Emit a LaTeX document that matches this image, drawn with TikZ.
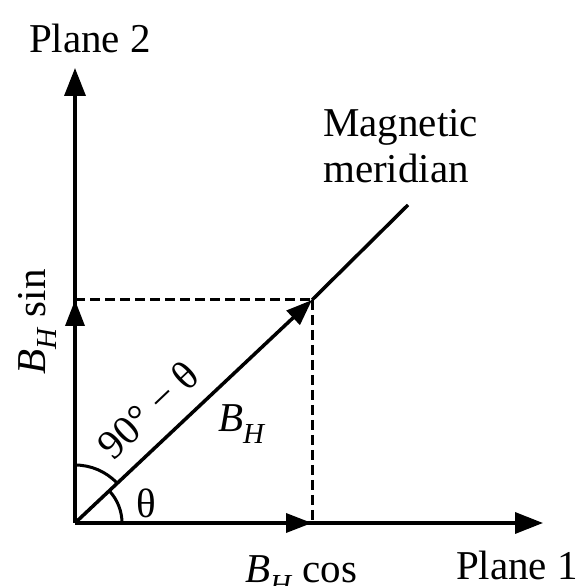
\documentclass[tikz,border=0pt]{standalone}
\usepackage{fontspec}
\setmainfont{Liberation Serif}
\usetikzlibrary{arrows.meta}
\newcommand{\BH}{\textit{B}\raisebox{-0.28em}{\fontsize{29}{32}\selectfont\textit{H}}}
\begin{document}
\begin{tikzpicture}[x=1pt,y=1pt,
  axis/.style={line width=3.5pt},
  tipstyle/.style={-{Triangle[length=28pt,width=21pt]}},
  tipsmall/.style={-{Triangle[length=26pt,width=19pt]}},
  dashline/.style={line width=3pt,dash pattern=on 10pt off 5pt},
  lbl/.style={inner sep=0pt,font=\fontsize{41}{49}\selectfont}]
\useasboundingbox (0,0) rectangle (579,586);
\coordinate (O) at (75,63);
\coordinate (Y) at (75,518);
\coordinate (X) at (543,63);
\coordinate (P) at (312,286);
\coordinate (Py) at (75,286);
\coordinate (Px) at (312,63);
\coordinate (M) at (408,381);
% axes
\draw[axis,tipstyle] (O) -- (Y);
\draw[axis,tipstyle] (O) -- (X);
\draw[axis,tipsmall] (O) -- (Py);
\draw[axis,tipsmall] (O) -- (Px);
% meridian
\draw[axis,tipsmall] (O) -- (P);
\draw[axis] (P) -- (M);
% dashed projections
\draw[dashline] (Py) -- (P);
\draw[dashline] (P) -- (Px);
% angle arcs
\draw[line width=3pt] ([shift={(0:47)}]O) arc[start angle=0,end angle=43.5,radius=47];
\draw[line width=3pt] ([shift={(43.5:58)}]O) arc[start angle=43.5,end angle=90,radius=58];
% labels
\node[lbl,anchor=base] (p2) at (90,533) {Plane 2};
\node[lbl,anchor=base] (p1) at (517,6) {Plane 1};
\node[lbl,anchor=base west] (bhc) at (245,3) {\BH\ cos};
\node[lbl,anchor=base west,rotate=90] (bhs) at (45,211) {\BH\ sin};
\node[lbl,anchor=base west] (mag) at (323,449) {Magnetic};
\node[lbl,anchor=base west] (mer) at (323,403) {meridian};
\node[lbl,rotate=43.5] (comp) at (148,176) {90° − θ};
\node[lbl,anchor=base west] (bh) at (218,154) {\BH};
\node[lbl] (th) at (146,83) {θ};
\end{tikzpicture}
\end{document}
